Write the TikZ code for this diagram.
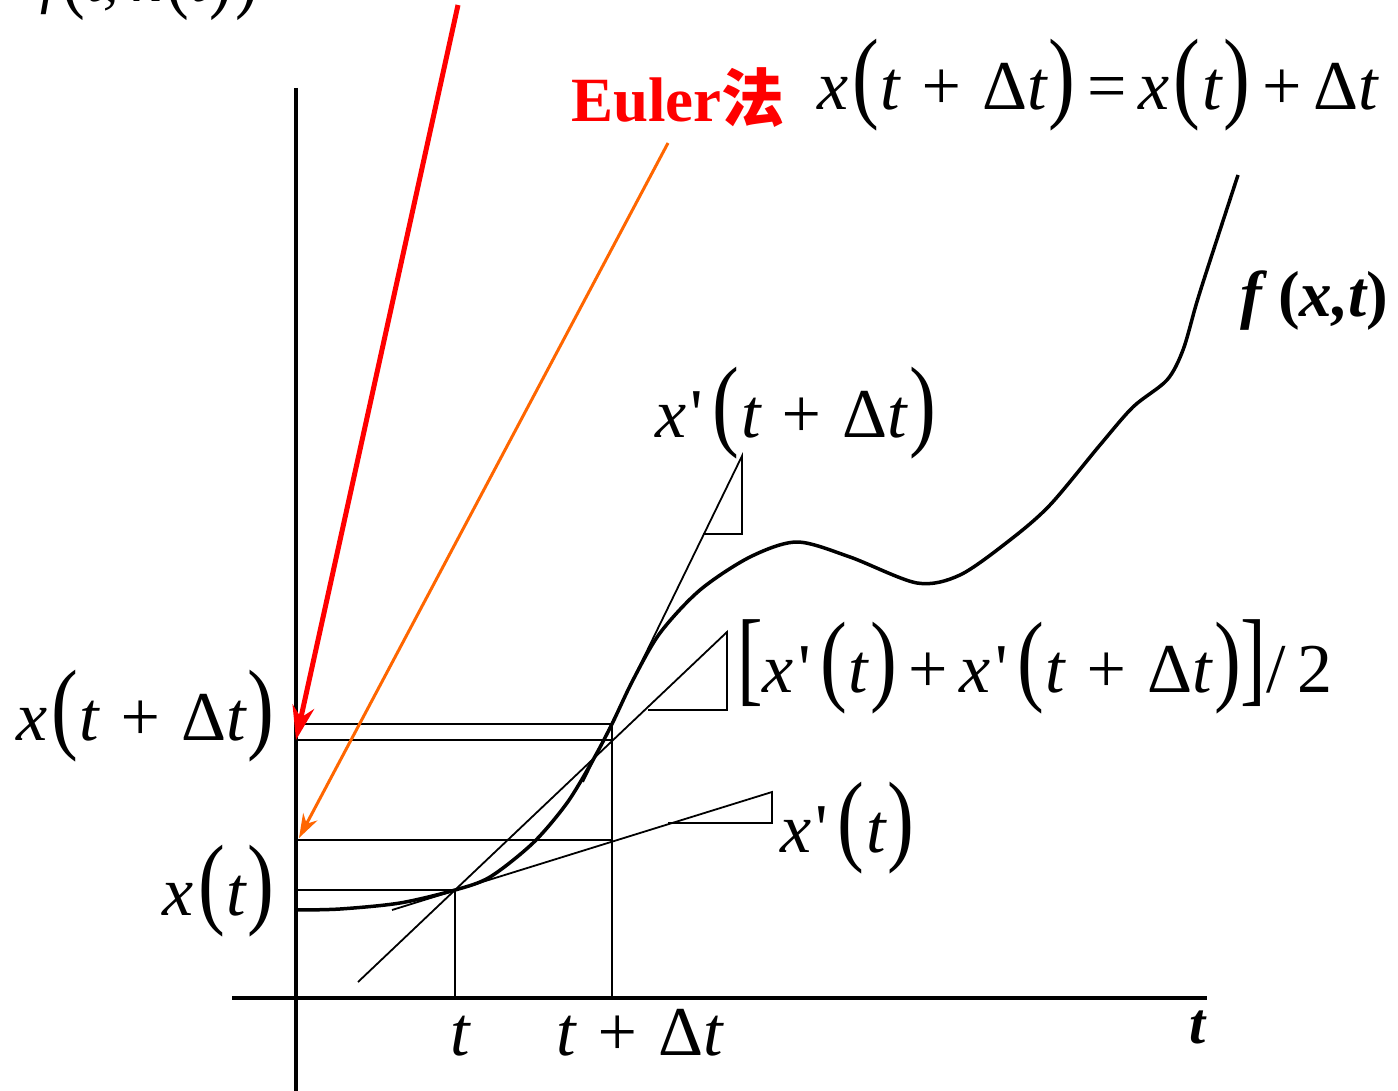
\documentclass[tikz,border=0pt]{standalone}
\usepackage{fontspec}
\setmainfont{Liberation Serif}
\newfontfamily\cjkfont{Noto Sans CJK SC}
\usepackage{graphicx}
\usetikzlibrary{arrows.meta}
\definecolor{eulerred}{RGB}{255,0,0}
\definecolor{eulerorange}{RGB}{255,102,0}
\newcommand{\lp}{\kern0.06em{\upshape\scalebox{1.15}[1.45]{(}}\kern0.02em}
\newcommand{\rp}{\kern0.03em{\upshape\scalebox{1.15}[1.45]{)}}}
\newcommand{\lb}{{\upshape\scalebox{1.1}[1.5]{[}}}
\newcommand{\rb}{{\upshape\scalebox{1.1}[1.5]{]}}}
\newcommand{\D}{{\upshape Δ}}
\newcommand{\pr}{\kern0.06em{\upshape\textquotesingle}\kern0.08em}
\tikzset{
  lbl/.style={font=\fontsize{70}{74}\selectfont\itshape, inner sep=0pt},
  biglbl/.style={font=\fontsize{70}{74}\selectfont\itshape, inner sep=0pt},
  boldlbl/.style={font=\fontsize{65}{70}\selectfont\bfseries\itshape, inner sep=0pt},
  thinline/.style={line width=1.8pt},
  axisline/.style={line width=3.5pt},
  curveline/.style={line width=3.5pt},
}
\begin{document}
\begin{tikzpicture}[x=1pt,y=-1pt]
\useasboundingbox (0,0) rectangle (1398,1091);
% Axes
\draw[axisline] (296,88) -- (296,1091);
\draw[axisline] (232,998) -- (1207,998);
% Points on the curve and on the x axis
\coordinate (P0) at (455,890);
\coordinate (P1) at (612,724);
\coordinate (T0) at (455,998);
\coordinate (T1) at (612,998);
\coordinate (Y0) at (296,890);
\coordinate (Y1) at (296,724);
\coordinate (Yh) at (296,740);
\coordinate (Ye) at (296,840);
\coordinate (Hh) at (612,740);
\coordinate (He) at (612,840);
% Curve
\draw[curveline] plot[smooth, tension=0.5] coordinates {(296,910) (340,909) (400,903) (455,890) (490,877) (533,843) (567,803) (593,760) (612,724) (633,680) (660,633) (700,590) (750,557) (797,542) (850,557) (917,583) (960,575) (1010,540) (1050,505) (1100,445) (1133,407) (1167,380) (1183,350) (1196,305) (1207,270) (1238,175)};
% Guide lines
\draw[thinline] (Y0) -- (P0) -- (T0);
\draw[thinline] (Y1) -- (P1) -- (T1);
\draw[thinline] (Yh) -- (Hh);
\draw[thinline] (Ye) -- (He);
% Slopes
\draw[thinline] (392,910) -- (772,792) -- (772,823) -- (668,823);
\draw[thinline] (583,782) -- (742,456) -- (742,534) -- (703,534);
\draw[thinline] (358,982) -- (727,632) -- (727,710) -- (648,710);
% Arrows
\coordinate (redtail) at (458,5);
\coordinate (orangetail) at (668,143);
\draw[eulerred, line width=5pt, -{Stealth[length=34pt, width=22pt]}] (redtail) -- (Yh);
\draw[eulerorange, line width=3pt, -{Stealth[length=24pt, width=16pt]}] (orangetail) -- (299,838);
% Labels
\node[anchor=base west, inner sep=0pt, font=\fontsize{62}{66}\selectfont\itshape] (ftx) at (40,2) {f\lp t, x\lp t\rp\rp};
\node[anchor=base west, inner sep=0pt, text=eulerred, font=\fontsize{63}{66}\selectfont\bfseries] (euler) at (571,122) {Euler{\cjkfont\bfseries 法}};
\node[lbl, anchor=base west] (eq) at (817,110) {x\lp t + \D t\rp{\upshape\,=\,}x\lp t\rp{\upshape\,+\,}\D t};
\node[boldlbl, anchor=base west] (fxt) at (1240,317) {f {\upshape(}x,t{\upshape)}};
\node[lbl, anchor=base west] (dx1) at (655,437) {x\pr\lp t + \D t\rp};
\node[biglbl, anchor=base west] (dxm) at (737,692) {\lb x\pr\lp t\rp{\upshape\,+\,}x\pr\lp t + \D t\rp\rb{\upshape/\,2}};
\node[lbl, anchor=base west] (dx0) at (780,852) {x\pr\lp t\rp};
\node[lbl, anchor=base east] (x1) at (275,740) {x\lp t + \D t\rp};
\node[lbl, anchor=base east] (x0) at (275,915) {x\lp t\rp};
\node[lbl, anchor=base] (t0) at (460,1055) {t};
\node[lbl, anchor=base] (t1) at (640,1055) {t + \D t};
\node[anchor=base, inner sep=0pt, font=\fontsize{58}{62}\selectfont\bfseries\itshape] (taxis) at (1198,1043) {t};
\end{tikzpicture}
\end{document}
